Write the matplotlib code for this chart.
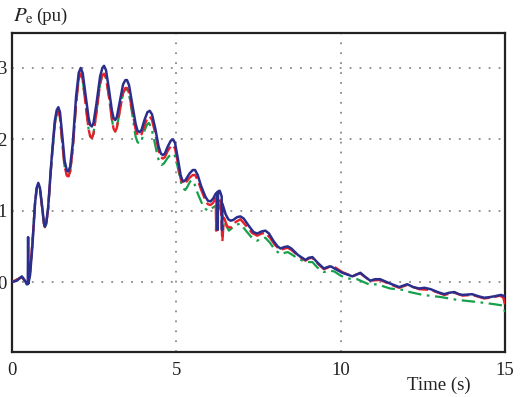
import matplotlib
matplotlib.use("Agg")
import matplotlib.pyplot as plt

plt.rcParams['font.family'] = ['Liberation Serif', 'DejaVu Serif']
plt.rcParams['mathtext.fontset'] = 'stix'

# Blue (solid) series
blue_t = [0.0, 0.15, 0.3, 0.38, 0.45, 0.48, 0.49, 0.5, 0.55, 0.62, 0.7, 0.75, 0.8, 0.85, 0.92,
          0.97, 1.0, 1.04, 1.1, 1.2, 1.3, 1.36, 1.41, 1.46, 1.53, 1.6, 1.67, 1.72, 1.77,
          1.85, 1.95, 2.03, 2.09, 2.15, 2.25, 2.33, 2.38, 2.43, 2.48, 2.57, 2.68, 2.75,
          2.8, 2.86, 2.95, 3.04, 3.09, 3.14, 3.19, 3.28, 3.38, 3.45, 3.5, 3.56, 3.65, 3.76,
          3.82, 3.88, 3.94, 4.03, 4.12, 4.19, 4.26, 4.36, 4.46, 4.53, 4.59, 4.65, 4.74,
          4.83, 4.9, 4.96, 5.05, 5.13, 5.18, 5.22, 5.28, 5.4, 5.5, 5.57, 5.65, 5.75, 5.88,
          5.96, 6.04, 6.12, 6.2, 6.25, 6.26, 6.27, 6.32, 6.38, 6.39, 6.4, 6.5, 6.58, 6.65,
          6.73, 6.85, 6.95, 7.05, 7.2, 7.35, 7.46, 7.6, 7.71, 7.82, 7.95, 8.08, 8.17, 8.28,
          8.39, 8.5, 8.7, 8.93, 9.03, 9.14, 9.3, 9.49, 9.6, 9.7, 9.85, 10.05, 10.36, 10.5,
          10.6, 10.75, 10.9, 11.05, 11.2, 11.5, 11.78, 12.03, 12.2, 12.39, 12.55, 12.74,
          12.95, 13.15, 13.3, 13.46, 13.6, 13.71, 14.0, 14.2, 14.37, 14.55, 14.67, 14.88, 15.0]
blue_v = [0.0, 0.02, 0.08, 0.03, -0.03, -0.03, 0.63, -0.02, 0.1, 0.5, 1.1, 1.32, 1.39, 1.32, 1.05,
          0.83, 0.78, 0.82, 1.05, 1.7, 2.25, 2.41, 2.45, 2.38, 2.05, 1.7, 1.56, 1.55, 1.62,
          1.95, 2.6, 2.93, 3.0, 2.93, 2.58, 2.3, 2.2, 2.18, 2.23, 2.5, 2.88, 3.0,
          3.03, 2.97, 2.7, 2.4, 2.3, 2.27, 2.31, 2.53, 2.77, 2.83, 2.83, 2.76, 2.52, 2.22,
          2.12, 2.1, 2.13, 2.27, 2.38, 2.4, 2.35, 2.15, 1.9, 1.8, 1.78, 1.8, 1.9,
          1.98, 2.0, 1.95, 1.72, 1.5, 1.43, 1.41, 1.43, 1.52, 1.57, 1.57, 1.5, 1.35, 1.2,
          1.14, 1.13, 1.17, 1.24, 1.26, 0.73, 1.27, 1.28, 1.2, 0.73, 1.1, 0.95, 0.88, 0.86,
          0.87, 0.91, 0.92, 0.89, 0.79, 0.7, 0.68, 0.71, 0.72, 0.68, 0.58, 0.5, 0.47, 0.49,
          0.5, 0.47, 0.38, 0.31, 0.34, 0.35, 0.27, 0.19, 0.21, 0.22, 0.18, 0.13, 0.08, 0.11,
          0.13, 0.07, 0.02, 0.04, 0.04, -0.02, -0.07, -0.03, -0.07, -0.09, -0.08, -0.1,
          -0.14, -0.17, -0.15, -0.14, -0.17, -0.18, -0.17, -0.2, -0.22, -0.21, -0.2, -0.18, -0.2]

# Red (dashed) series
red_t = [0.0, 0.3, 0.45, 0.5, 0.55, 0.62, 0.7, 0.75, 0.8, 0.85, 0.92, 0.97, 1.0, 1.04, 1.1,
         1.2, 1.3, 1.36, 1.41, 1.46, 1.53, 1.6, 1.67, 1.72, 1.77, 1.85, 1.95, 2.03, 2.09,
         2.15, 2.25, 2.33, 2.38, 2.43, 2.48, 2.57, 2.68, 2.75, 2.8, 2.86, 2.95, 3.04, 3.09,
         3.14, 3.19, 3.28, 3.38, 3.45, 3.5, 3.56, 3.65, 3.76, 3.82, 3.88, 3.94, 4.03, 4.12,
         4.19, 4.26, 4.36, 4.46, 4.53, 4.59, 4.65, 4.74, 4.83, 4.9, 4.96, 5.05, 5.13, 5.18,
         5.22, 5.28, 5.4, 5.5, 5.57, 5.65, 5.75, 5.88, 5.96, 6.04, 6.12, 6.18, 6.2, 6.21,
         6.22, 6.3, 6.35, 6.4, 6.45, 6.55, 6.65, 6.8, 6.95, 7.1, 7.3, 7.46, 7.6, 7.71, 7.85,
         8.0, 8.17, 8.3, 8.39, 8.5, 8.7, 8.93, 9.03, 9.14, 9.3, 9.49, 9.6, 9.7, 9.85, 10.05,
         10.36, 10.5, 10.6, 10.75, 10.9, 11.2, 11.5, 11.78, 12.03, 12.39, 12.74, 13.15,
         13.46, 13.71, 14.0, 14.37, 14.67, 14.85, 14.95, 15.0]
red_v = [0.0, 0.07, -0.03, 0.0, 0.15, 0.55, 1.1, 1.3, 1.37, 1.3, 1.03, 0.82, 0.77, 0.81, 1.03,
         1.68, 2.2, 2.36, 2.4, 2.3, 1.95, 1.62, 1.49, 1.48, 1.55, 1.87, 2.5, 2.85, 2.92,
         2.84, 2.45, 2.14, 2.04, 2.02, 2.08, 2.38, 2.78, 2.9, 2.92, 2.86, 2.6, 2.28, 2.15,
         2.11, 2.16, 2.4, 2.65, 2.72, 2.72, 2.65, 2.42, 2.14, 2.06, 2.04, 2.07, 2.19, 2.3,
         2.32, 2.27, 2.08, 1.84, 1.75, 1.73, 1.75, 1.84, 1.9, 1.92, 1.87, 1.66, 1.45, 1.39,
         1.37, 1.39, 1.46, 1.5, 1.5, 1.43, 1.3, 1.15, 1.09, 1.08, 1.11, 1.16, 1.18, 0.72,
         1.17, 1.2, 1.1, 0.57, 0.9, 0.78, 0.76, 0.84, 0.88, 0.8, 0.69, 0.65, 0.68, 0.69, 0.62,
         0.52, 0.45, 0.47, 0.48, 0.45, 0.37, 0.3, 0.33, 0.34, 0.26, 0.18, 0.2, 0.23, 0.2, 0.14,
         0.08, 0.11, 0.12, 0.07, 0.02, 0.03, -0.03, -0.08, -0.04, -0.1, -0.11, -0.18,
         -0.15, -0.19, -0.18, -0.23, -0.21, -0.19, -0.22, -0.32]

# Green (dash-dot) series
green_t = [0.0, 0.3, 0.45, 0.5, 0.55, 0.62, 0.7, 0.75, 0.8, 0.85, 0.92, 0.97, 1.0, 1.04, 1.1,
           1.2, 1.3, 1.36, 1.41, 1.46, 1.53, 1.6, 1.67, 1.72, 1.77, 1.85, 1.95, 2.03, 2.09,
           2.15, 2.25, 2.33, 2.38, 2.43, 2.48, 2.57, 2.68, 2.75, 2.8, 2.86, 2.95, 3.04, 3.09,
           3.14, 3.19, 3.28, 3.38, 3.45, 3.5, 3.56, 3.65, 3.76, 3.82, 3.88, 3.94, 4.03, 4.1,
           4.16, 4.23, 4.33, 4.43, 4.5, 4.55, 4.62, 4.72, 4.83, 4.92, 4.98, 5.07, 5.15, 5.21,
           5.27, 5.33, 5.42, 5.48, 5.55, 5.65, 5.8, 5.9, 5.98, 6.1, 6.2, 6.3, 6.45, 6.6, 6.8,
           6.95, 7.1, 7.3, 7.46, 7.6, 7.71, 7.85, 8.0, 8.17, 8.3, 8.39, 8.5, 8.7, 8.88, 9.03,
           9.14, 9.3, 9.49, 9.65, 9.8, 10.0, 10.2, 10.5, 10.7, 10.9, 11.1, 11.5, 11.9, 12.1,
           12.5, 13.05, 13.55, 14.17, 14.67, 14.95, 15.0]
green_v = [0.0, 0.07, -0.03, 0.0, 0.15, 0.55, 1.1, 1.3, 1.37, 1.3, 1.03, 0.82, 0.77, 0.81, 1.03,
           1.68, 2.2, 2.36, 2.4, 2.3, 1.95, 1.62, 1.49, 1.48, 1.55, 1.87, 2.5, 2.85, 2.92,
           2.84, 2.45, 2.14, 2.04, 2.02, 2.08, 2.38, 2.78, 2.9, 2.92, 2.86, 2.6, 2.28, 2.15,
           2.11, 2.16, 2.4, 2.65, 2.7, 2.7, 2.63, 2.38, 2.04, 1.96, 1.94, 1.98, 2.12, 2.2,
           2.23, 2.18, 1.98, 1.76, 1.66, 1.64, 1.66, 1.73, 1.79, 1.8, 1.74, 1.55, 1.38, 1.31,
           1.29, 1.33, 1.41, 1.43, 1.38, 1.24, 1.08, 1.02, 1.0, 1.04, 1.07, 1.08, 0.85, 0.72, 0.8,
           0.82, 0.73, 0.62, 0.58, 0.61, 0.62, 0.55, 0.45, 0.39, 0.41, 0.42, 0.39, 0.33, 0.29, 0.28,
           0.28, 0.2, 0.14, 0.16, 0.15, 0.09, 0.05, 0.04, 0.0, -0.04, -0.03, -0.09, -0.11, -0.14,
           -0.18, -0.21, -0.25, -0.28, -0.31, -0.33, -0.42]

x_ticks = [0, 5, 10, 15]
y_ticks = [0, 1, 2, 3]

fig = plt.figure(figsize=(5.27, 3.97), dpi=100)
ax = fig.add_axes([12/527, 45/397, 493/527, 319/397])

ax.plot(green_t, green_v, color='#16a04c', lw=1.6, linestyle=(0, (6, 2.5, 1.2, 2.5)),
        solid_joinstyle='round', dash_joinstyle='round', zorder=3)
ax.plot(red_t, red_v, color='#e8202a', lw=1.7, linestyle=(0, (7, 2)),
        dash_joinstyle='round', zorder=4)
ax.plot(blue_t, blue_v, color='#2b2f8c', lw=1.8, solid_joinstyle='round', zorder=5)

ax.set_xlim(0, 15)
ax.set_ylim(-0.98, 3.49)
ax.set_xticks(x_ticks)
ax.set_yticks(y_ticks)
ax.set_xticklabels([str(v) for v in x_ticks])
ax.set_yticklabels([str(v) for v in y_ticks])
ax.tick_params(axis='both', length=0, labelsize=13.5, colors='#222222')
ax.tick_params(axis='x', pad=7)
ax.tick_params(axis='y', pad=4)
ax.grid(True, color='#8a8a8a', linestyle=(0, (1, 4.5)), lw=1.3)
for s in ax.spines.values():
    s.set_linewidth(1.6)
    s.set_color('#222222')

fig.text(13/527, 1 - 21/397, r'$P_{\mathrm{e}}$', fontsize=15, va='baseline', ha='left', color='#222222')
fig.text(36/527, 1 - 21/397, '(pu)', fontsize=13.5, va='baseline', ha='left', color='#222222')
fig.text(407/527, 7/397, 'Time (s)', fontsize=13.5, va='baseline', ha='left', color='#222222')

fig.savefig('out.png', dpi=100)
